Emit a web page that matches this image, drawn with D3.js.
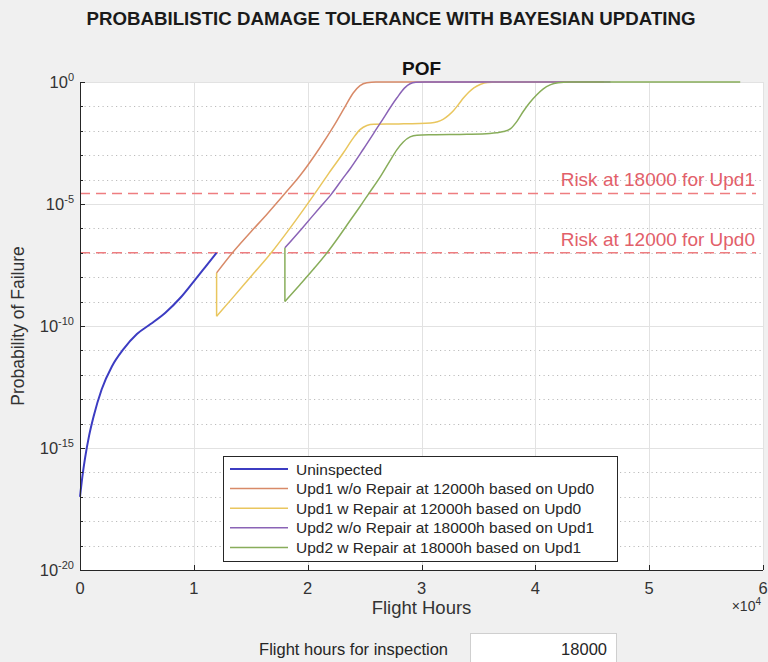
<!DOCTYPE html>
<html>
<head>
<meta charset="utf-8">
<script src="https://cdn.jsdelivr.net/npm/d3@7"></script>
<style>
  html, body { margin: 0; padding: 0; background: #f0f0f0; }
  svg { display: block; font-family: "Liberation Sans", Arial, Helvetica, sans-serif; }
</style>
</head>
<body>
<svg id="chart" width="768" height="662"></svg>
<script>
// ---- Probability of failure curves (flight hours, POF) ----
const seriesNames = [
  "Uninspected",
  "Upd1 w/o Repair at 12000h based on Upd0",
  "Upd1 w Repair at 12000h based on Upd0",
  "Upd2 w/o Repair at 18000h based on Upd1",
  "Upd2 w Repair at 18000h based on Upd1"
];
const seriesColors = ["#3c3cc2", "#d88a68", "#e9c65e", "#8a63b6", "#88ad5a"];

const hoursUninspected = [0, 200, 450, 800, 1200, 1900, 2800, 3800, 5000, 6200, 7500, 8800, 10000, 11000, 12000];
const pofUninspected   = [1e-17, 6.3e-17, 4.0e-16, 3.2e-15, 2.0e-14, 2.5e-13, 2.2e-12, 1.1e-11, 4.7e-11, 1.2e-10, 3.5e-10, 1.4e-9, 6.8e-9, 2.6e-8, 1.0e-7];

const hoursUpd1NoRepair = [12000, 13300, 15000, 16500, 18000, 19300, 21000, 22300, 23300, 24000, 24600, 25200, 26000, 46000];
const pofUpd1NoRepair   = [1.5e-8, 8.9e-8, 7.1e-7, 4.2e-6, 2.7e-5, 1.4e-4, 1.8e-3, 0.0158, 0.1, 0.355, 0.71, 0.93, 1, 1];

const hoursUpd1Repair = [12000, 12000, 13500, 15000, 16800, 18500, 20500, 21850, 23140, 24000, 24600, 25200, 25800, 28000, 30800, 31400, 31930, 32400, 32800, 33250, 33700, 34150, 34600, 35200, 35800, 36600, 46000];
const pofUpd1Repair   = [1.5e-8, 2.5e-10, 1.6e-9, 1.05e-8, 1.0e-7, 1.1e-6, 2.2e-5, 1.8e-4, 1.26e-3, 5.0e-3, 0.0112, 0.0166, 0.0186, 0.0191, 0.0209, 0.0234, 0.0302, 0.0437, 0.066, 0.12, 0.224, 0.38, 0.575, 0.81, 0.955, 1, 1];

const hoursUpd2NoRepair = [18000, 19500, 21000, 22100, 23140, 23730, 24900, 26360, 27830, 28500, 29000, 29500, 30300, 46600];
const pofUpd2NoRepair   = [1.6e-7, 1.0e-6, 6.6e-6, 2.6e-5, 1.2e-4, 2.8e-4, 1.8e-3, 0.02, 0.22, 0.56, 0.85, 0.966, 1, 1];

const hoursUpd2Repair = [18000, 18000, 19300, 20500, 21700, 22800, 23730, 24600, 25400, 26360, 27200, 27830, 28400, 29000, 29600, 31000, 34000, 36000, 36600, 37200, 37800, 38400, 38950, 39500, 40130, 40700, 41300, 42000, 43000, 58000];
const pofUpd2Repair   = [1.6e-7, 1.0e-9, 4.8e-9, 2.1e-8, 1.0e-7, 5.0e-7, 2.1e-6, 7.9e-6, 2.8e-5, 1.26e-4, 5.6e-4, 1.66e-3, 3.5e-3, 5.6e-3, 6.6e-3, 6.9e-3, 7.2e-3, 7.8e-3, 8.3e-3, 9.3e-3, 0.012, 0.025, 0.063, 0.141, 0.30, 0.525, 0.76, 0.93, 1, 1];

// Risk thresholds drawn as horizontal reference lines
const riskLabels = ["Risk at 18000 for Upd1", "Risk at 12000 for Upd0"];
const riskValues = [2.7e-5, 1.0e-7];

// Axis ticks
const xTickValues = [0, 10000, 20000, 30000, 40000, 50000, 60000];
const xTickLabels = ["0", "1", "2", "3", "4", "5", "6"];
const yMajorExponents = [0, -5, -10, -15, -20];
const yAllExponents = d3.range(0, -21, -1);

const inspectionHours = "18000";

// ---- Layout ----
const svg = d3.select("#chart");
const plotLeft = 80, plotRight = 763, plotTop = 82, plotBottom = 570;
const textColor = "#262626";

const x = d3.scaleLinear().domain([0, 60000]).range([plotLeft, plotRight]);
const y = d3.scaleLog().domain([1e-20, 1]).range([plotBottom, plotTop]);

svg.append("rect").attr("width", 768).attr("height", 662).attr("fill", "#f0f0f0");

// Figure title
svg.append("text")
  .attr("x", 391).attr("y", 25)
  .attr("text-anchor", "middle")
  .attr("font-size", 18.7).attr("font-weight", "bold")
  .attr("fill", "#1a1a1a")
  .text("PROBABILISTIC DAMAGE TOLERANCE WITH BAYESIAN UPDATING");

// Plot background
svg.append("rect")
  .attr("x", plotLeft).attr("y", plotTop)
  .attr("width", plotRight - plotLeft).attr("height", plotBottom - plotTop)
  .attr("fill", "#ffffff");

// Minor (dotted) grid at every decade
const grid = svg.append("g");
grid.selectAll("line.minor")
  .data(yAllExponents.filter(e => e % 5 !== 0))
  .join("line")
  .attr("x1", plotLeft).attr("x2", plotRight)
  .attr("y1", e => Math.round(y(Math.pow(10, e))) + 0.5)
  .attr("y2", e => Math.round(y(Math.pow(10, e))) + 0.5)
  .attr("stroke", "#bcbcbc").attr("stroke-width", 1)
  .attr("stroke-dasharray", "1.2 3.3");

// Major (solid) grid
grid.selectAll("line.majy")
  .data(yMajorExponents.filter(e => e !== -20))
  .join("line")
  .attr("x1", plotLeft).attr("x2", plotRight)
  .attr("y1", e => Math.round(y(Math.pow(10, e))) + 0.5)
  .attr("y2", e => Math.round(y(Math.pow(10, e))) + 0.5)
  .attr("stroke", "#e2e2e2").attr("stroke-width", 1);
grid.selectAll("line.majx")
  .data(xTickValues.filter(v => v > 0))
  .join("line")
  .attr("x1", v => Math.round(x(v)) + 0.5).attr("x2", v => Math.round(x(v)) + 0.5)
  .attr("y1", plotTop).attr("y2", plotBottom)
  .attr("stroke", "#e2e2e2").attr("stroke-width", 1);

// Risk reference lines
const riskG = svg.append("g");
riskValues.forEach((v, i) => {
  riskG.append("line")
    .attr("x1", plotLeft).attr("x2", 756)
    .attr("y1", y(v)).attr("y2", y(v))
    .attr("stroke", "#ee7d80").attr("stroke-width", 1.5)
    .attr("stroke-dasharray", "10 6");
  riskG.append("text")
    .attr("x", 755).attr("y", y(v) - 7)
    .attr("text-anchor", "end")
    .attr("font-size", 19)
    .attr("fill", "#e2606a")
    .text(riskLabels[i]);
});

// Curves
const seriesData = [
  d3.zip(hoursUninspected, pofUninspected),
  d3.zip(hoursUpd1NoRepair, pofUpd1NoRepair),
  d3.zip(hoursUpd1Repair, pofUpd1Repair),
  d3.zip(hoursUpd2NoRepair, pofUpd2NoRepair),
  d3.zip(hoursUpd2Repair, pofUpd2Repair)
];
const smooth = d3.line().x(d => x(d[0])).y(d => y(d[1])).curve(d3.curveMonotoneX);
const straight = d3.line().x(d => x(d[0])).y(d => y(d[1]));

const curves = svg.append("g").attr("fill", "none");
seriesData.forEach((pts, i) => {
  const w = i === 0 ? 2 : 1.5;
  // A repair at inspection time shows as a vertical drop before the curve resumes
  let rest = pts;
  if (pts.length > 1 && pts[0][0] === pts[1][0]) {
    curves.append("path")
      .attr("d", straight(pts.slice(0, 2)))
      .attr("stroke", seriesColors[i]).attr("stroke-width", w);
    rest = pts.slice(1);
  }
  curves.append("path")
    .attr("d", smooth(rest))
    .attr("stroke", seriesColors[i]).attr("stroke-width", w)
    .attr("stroke-linejoin", "round");
});

// Axes lines and ticks
const axes = svg.append("g").attr("stroke", textColor);
axes.append("line").attr("x1", plotLeft + 0.5).attr("x2", plotLeft + 0.5).attr("y1", plotTop).attr("y2", plotBottom + 0.5).attr("stroke-width", 1);
axes.append("line").attr("x1", plotLeft).attr("x2", plotRight).attr("y1", plotBottom + 0.5).attr("y2", plotBottom + 0.5).attr("stroke-width", 1);
axes.selectAll("line.yt")
  .data(yAllExponents)
  .join("line")
  .attr("x1", plotLeft).attr("x2", e => plotLeft + (e % 5 === 0 ? 5 : 3))
  .attr("y1", e => Math.round(y(Math.pow(10, e))) + 0.5)
  .attr("y2", e => Math.round(y(Math.pow(10, e))) + 0.5);
axes.selectAll("line.xt")
  .data(xTickValues)
  .join("line")
  .attr("x1", v => Math.round(x(v)) + 0.5).attr("x2", v => Math.round(x(v)) + 0.5)
  .attr("y1", plotBottom).attr("y2", plotBottom - 5);

// Y tick labels (powers of ten)
const yLab = svg.append("g").attr("fill", "#333").attr("font-size", 16.5);
yMajorExponents.forEach(e => {
  const t = yLab.append("text")
    .attr("x", 74).attr("y", y(Math.pow(10, e)) + 6)
    .attr("text-anchor", "end");
  t.append("tspan").text("10");
  t.append("tspan").attr("dy", -7).attr("font-size", 11).text(String(e));
});

// X tick labels
svg.append("g").attr("fill", "#333").attr("font-size", 16.5)
  .selectAll("text")
  .data(xTickValues)
  .join("text")
  .attr("x", v => x(v)).attr("y", 594)
  .attr("text-anchor", "middle")
  .text((v, i) => xTickLabels[i]);

// Exponent marker for x axis
const xExp = svg.append("text")
  .attr("x", 761).attr("y", 611)
  .attr("text-anchor", "end")
  .attr("fill", "#333").attr("font-size", 14);
xExp.append("tspan").text("\u00d710");
xExp.append("tspan").attr("dy", -6).attr("font-size", 10).text("4");

// Axis titles
svg.append("text")
  .attr("x", (plotLeft + plotRight) / 2).attr("y", 614)
  .attr("text-anchor", "middle")
  .attr("font-size", 18.5).attr("fill", "#333")
  .text("Flight Hours");
svg.append("text")
  .attr("transform", `translate(24, ${(plotTop + plotBottom) / 2}) rotate(-90)`)
  .attr("text-anchor", "middle")
  .attr("font-size", 17.5).attr("fill", "#333")
  .text("Probability of Failure");
svg.append("text")
  .attr("x", (plotLeft + plotRight) / 2).attr("y", 75)
  .attr("text-anchor", "middle")
  .attr("font-size", 19).attr("font-weight", "bold")
  .attr("fill", "#111")
  .text("POF");

// Legend
const legend = svg.append("g");
legend.append("rect")
  .attr("x", 223.5).attr("y", 456.5)
  .attr("width", 394).attr("height", 105)
  .attr("fill", "#ffffff").attr("stroke", "#262626").attr("stroke-width", 1);
seriesNames.forEach((name, i) => {
  const ly = 469 + i * 19.6;
  legend.append("line")
    .attr("x1", 230).attr("x2", 288)
    .attr("y1", ly).attr("y2", ly)
    .attr("stroke", seriesColors[i]).attr("stroke-width", i === 0 ? 2 : 1.5);
  legend.append("text")
    .attr("x", 296).attr("y", ly + 5.5)
    .attr("font-size", 15.5).attr("fill", textColor)
    .text(name);
});

// Inspection-hours input control below the chart
svg.append("text")
  .attr("x", 448).attr("y", 655)
  .attr("text-anchor", "end")
  .attr("font-size", 16.5).attr("fill", textColor)
  .text("Flight hours for inspection");
svg.append("rect")
  .attr("x", 470.5).attr("y", 633.5)
  .attr("width", 146).attr("height", 40)
  .attr("fill", "#ffffff").attr("stroke", "#cfcfcf");
svg.append("text")
  .attr("x", 607).attr("y", 655)
  .attr("text-anchor", "end")
  .attr("font-size", 16.5).attr("fill", textColor)
  .text(inspectionHours);
</script>
</body>
</html>
